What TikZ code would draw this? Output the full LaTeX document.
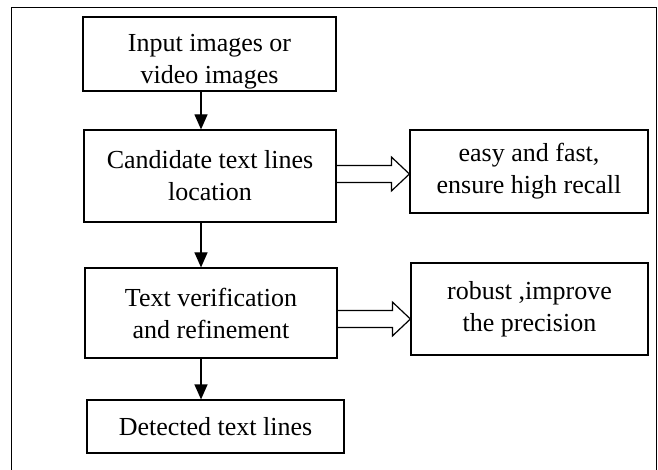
\documentclass[tikz,border=0pt]{standalone}
\usepackage{fontspec}
\setmainfont{Liberation Serif}
\usepackage{tikz}
\usetikzlibrary{arrows.meta}
\usetikzlibrary{calc}
\usetikzlibrary{positioning}

\begin{document}
\begin{tikzpicture}[
			x=1pt, y=-1pt,
			box/.style={draw, line width=1.2pt, align=center, inner sep=0pt,
					font=\fontsize{26}{32}\selectfont},
			flow/.style={line width=1.2pt, -{Triangle[width=13pt, length=15pt]}},
			hollow/.style={line width=1.2pt, line join=miter},
			frame/.style={line width=1.8pt}
		]
		\useasboundingbox (0,0) rectangle (658,470);

		% open frame round the whole flow
		\draw[frame] (11.5,470) -- (11.5,7.5) -- (656.5,7.5) -- (656.5,470);

		% main steps
		\node[box, minimum width=253pt, minimum height=74pt, text height=64pt] (B1) at (209.5,54) {Input images or\\video images};
		\node[box, minimum width=252pt, minimum height=92pt] (B2) at (210,176) {Candidate text lines\\location};
		\node[box, minimum width=252pt, minimum height=90pt] (B3) at (211,313) {Text verification\\and refinement};
		\node[box, minimum width=257pt, minimum height=53pt] (B4) at (215.5,426.5) {Detected text lines};

		% remarks on the right
		\node[box, minimum width=238pt, minimum height=83pt] (E) at (529,171.5) {easy and fast,\\ensure high recall};
		\node[box, minimum width=237pt, minimum height=92pt] (R) at (529.5,309) {robust ,improve\\the precision};

		% arrows down the left column
		\coordinate (spine) at (201,0);
		\draw[flow] (B1.south -| spine) -- (B2.north -| spine);
		\draw[flow] (B2.south -| spine) -- (B3.north -| spine);
		\draw[flow] (B3.south -| spine) -- (B4.north -| spine);

		% hollow arrows to the remarks
		\foreach \from/\to/\dy in {B2/E/-2, B3/R/6} {
				\coordinate (tip) at (\to.west |- \from.east);
				\draw[hollow] ($(\from.east)+(0,\dy-8.5)$) -- ($(tip)+(-18,\dy-8.5)$)
				-- ($(tip)+(-18,\dy-17)$) -- ($(tip)+(0,\dy)$) -- ($(tip)+(-18,\dy+17)$)
				-- ($(tip)+(-18,\dy+8.5)$) -- ($(\from.east)+(0,\dy+8.5)$);
			}
	\end{tikzpicture}
\end{document}
